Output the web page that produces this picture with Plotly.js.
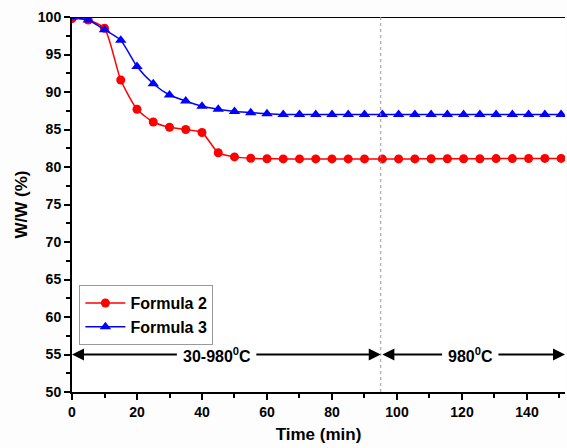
<!DOCTYPE html>
<html>
<head>
<meta charset="utf-8">
<script src="https://cdn.plot.ly/plotly-3.0.1.min.js"></script>
<style>html,body{margin:0;padding:0;background:#fdfdfd;}#chart{width:567px;height:448px;}</style>
</head>
<body>
<div id="chart"></div>
<script>
const time = [0,5,10,15,20,25,30,35,40,45,50,55,60,65,70,75,80,85,90,95.5,100.5,105.5,110.5,115.5,120.5,125.5,130.5,135.5,140.5,145.5,150.5];
const formula2 = [99.8,99.6,98.5,91.6,87.7,86.0,85.3,85.0,84.6,81.9,81.35,81.17,81.1,81.08,81.08,81.08,81.08,81.08,81.08,81.08,81.08,81.08,81.1,81.1,81.1,81.1,81.12,81.12,81.14,81.15,81.15];
const formula3 = [100.0,99.6,98.3,96.9,93.4,91.1,89.6,88.8,88.1,87.7,87.4,87.25,87.1,87.0,87.0,87.0,87.0,87.0,87.0,87.0,87.0,87.0,87.0,87.0,87.0,87.0,87.0,87.0,87.0,87.0,87.0];
const seriesNames = ["Formula 2","Formula 3"];
const phaseLabels = ["30-980<sup>0</sup>C","980<sup>0</sup>C"];
const phaseBoundary = 95;
const arrowLevel = 55;

const F = "Arial, 'Liberation Sans', sans-serif";
const traces = [
  {x: time, y: formula2, name: seriesNames[0], type: "scatter", mode: "lines+markers",
   line: {color: "#ff0000", width: 1.5, shape: "spline", smoothing: 0.6},
   marker: {color: "#ff0000", symbol: "circle", size: 9}},
  {x: time, y: formula3, name: seriesNames[1], type: "scatter", mode: "lines+markers",
   line: {color: "#0000ff", width: 1.5, shape: "spline", smoothing: 0.6},
   marker: {color: "#0000ff", symbol: "triangle-up", size: 10}}
];

function arrow(tip, tail) {
  return {x: tip, y: arrowLevel, ax: tail, ay: arrowLevel, xref: "x", yref: "y", axref: "x", ayref: "y",
    text: " ", showarrow: true, arrowhead: 2, arrowsize: 1.2, arrowwidth: 2, arrowcolor: "#000"};
}
const annotations = [
  arrow(0, 33.2), arrow(phaseBoundary, 55.8),
  arrow(phaseBoundary + 0.5, 114.8), arrow(151.7, 130.3),
  {x: 44.5, y: arrowLevel, xref: "x", yref: "y", text: phaseLabels[0], showarrow: false,
   font: {family: F, size: 16, color: "#000", weight: "bold"}},
  {x: 122.5, y: arrowLevel, xref: "x", yref: "y", text: phaseLabels[1], showarrow: false,
   font: {family: F, size: 16, color: "#000", weight: "bold"}}
];

const layout = {
  width: 567, height: 448,
  margin: {l: 72, r: 2, t: 17, b: 56},
  paper_bgcolor: "#fdfdfd", plot_bgcolor: "#ffffff",
  showlegend: true,
  legend: {x: 0.015, y: 0.285, xanchor: "left", yanchor: "top", bgcolor: "#ffffff",
    bordercolor: "#999999", borderwidth: 1, font: {family: F, size: 16, color: "#000", weight: "bold"},
    tracegroupgap: 0, itemwidth: 40},
  xaxis: {range: [0, 151.7], tick0: 0, dtick: 20, ticks: "outside", ticklen: 6, tickwidth: 2,
    tickcolor: "#000", showline: true, linecolor: "#000", linewidth: 2, mirror: false,
    showgrid: false, zeroline: false,
    minor: {dtick: 10, ticks: "outside", ticklen: 4, tickwidth: 2, tickcolor: "#000"},
    tickfont: {family: F, size: 14, color: "#000", weight: "bold"},
    title: {text: "Time (min)", font: {family: F, size: 17, color: "#000", weight: "bold"}, standoff: 9}},
  yaxis: {range: [50, 100], tick0: 50, dtick: 5, ticks: "outside", ticklen: 6, tickwidth: 2,
    tickcolor: "#000", showline: true, linecolor: "#000", linewidth: 2,
    showgrid: false, zeroline: false,
    minor: {dtick: 2.5, ticks: "outside", ticklen: 4, tickwidth: 2, tickcolor: "#000"},
    tickfont: {family: F, size: 14, color: "#000", weight: "bold"},
    title: {text: "W/W (%)", font: {family: F, size: 17, color: "#000", weight: "bold"}, standoff: 6}},
  shapes: [
    {type: "line", xref: "paper", yref: "y", x0: 0, x1: 1, y0: 100, y1: 100, line: {color: "#000", width: 2}},
    {type: "line", xref: "x", yref: "paper", x0: phaseBoundary, x1: phaseBoundary, y0: 0, y1: 1,
     line: {color: "#999999", width: 1, dash: "dot"}}
  ],
  annotations: annotations
};
Plotly.newPlot("chart", traces, layout, {displayModeBar: false, staticPlot: true});
</script>
</body>
</html>
